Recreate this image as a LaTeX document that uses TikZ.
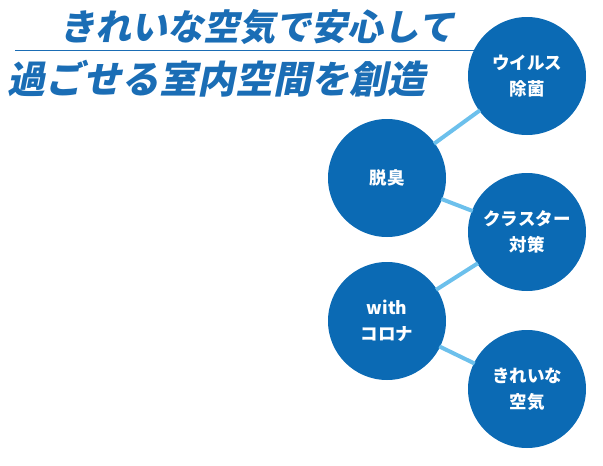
\documentclass[tikz,border=0pt]{standalone}
\usepackage{fontspec}
\newfontfamily\cjk{Noto Sans CJK JP}
\newfontfamily\cjktitle[FakeSlant=0.2]{Noto Sans CJK JP}
\definecolor{circblue}{HTML}{0B6AB4}
\definecolor{linkblue}{HTML}{6CC0EC}
\definecolor{titleblue}{HTML}{1A6DB5}
\usetikzlibrary{positioning}

\begin{document}
\begin{tikzpicture}[x=1pt,y=-1pt]
    \tikzstyle{topic} = [circle, minimum size=118pt, inner sep=0pt, fill=circblue, text=white, align=center, font=\cjk\bfseries\fontsize{17.5}{26}\selectfont]
    \tikzstyle{link} = [linkblue, line width=4pt, shorten <=-1pt, shorten >=-1pt]
    \useasboundingbox (0,0) rectangle (603,466);
    % title
    \node (title1) [text=titleblue, font=\cjktitle\bfseries\fontsize{36}{38}\selectfont] at (257,27) {きれいな空気で安心して};
    \node (title2) [text=titleblue, font=\cjktitle\bfseries\fontsize{38}{42}\selectfont] at (217,79) {過ごせる室内空間を創造};
    \coordinate (ruleA) at (15,50);
    \coordinate (ruleB) at (475,50);
    \draw [titleblue, line width=1pt] (ruleA) -- (ruleB);
    % circles
    \node (virus) [topic] at (527,76) {ウイルス\\除菌};
    \node (odor) [topic] at (387,178) {脱臭};
    \node (cluster) [topic] at (527,232) {クラスター\\対策};
    \node (corona) [topic] at (387,321) {with\\コロナ};
    \node (clean) [topic] at (527,389) {きれいな\\空気};

    \draw [link] (odor) -- (virus);
    \draw [link] (odor) -- (cluster);
    \draw [link] (corona) -- (cluster);
    \draw [link] (corona) -- (clean);
\end{tikzpicture}
\end{document}
